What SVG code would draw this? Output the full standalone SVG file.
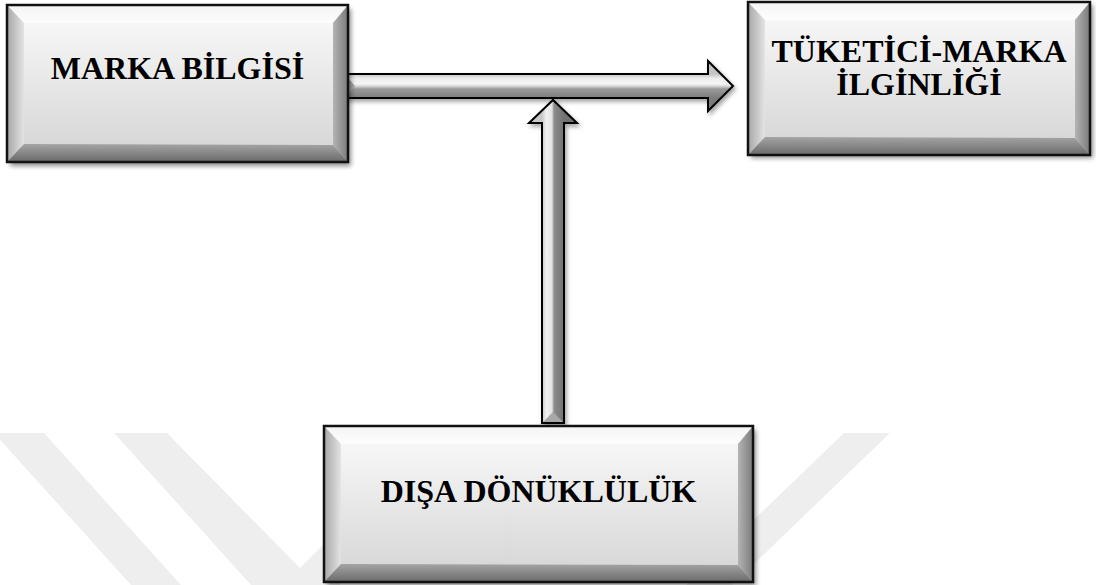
<svg xmlns="http://www.w3.org/2000/svg" width="1096" height="585" viewBox="0 0 1096 585">
  <defs>
    <style>
      .wm { fill: #eeeeee; }
      .label { font-family: "Liberation Serif", "Times New Roman", serif; font-weight: bold; font-size: 32px; fill: #000; text-anchor: middle; }
      .frame { fill: none; stroke: #111; stroke-width: 2.5; }
      .shadow { fill: #000; opacity: 0.45; filter: url(#soft); }
      .face { fill: url(#gFace); }
      .bevT { fill: url(#gTop); }
      .bevL { fill: url(#gLeft); }
      .bevR { fill: url(#gRight); }
      .bevB { fill: url(#gBottom); }
      .arrow { stroke: #000; stroke-width: 2; stroke-linejoin: miter; filter: url(#drop); }
    </style>
    <filter id="soft" x="-10%" y="-10%" width="120%" height="130%">
      <feGaussianBlur stdDeviation="2.5"/>
    </filter>
    <filter id="drop" x="-20%" y="-20%" width="140%" height="140%">
      <feDropShadow dx="2" dy="3" stdDeviation="2" flood-color="#000" flood-opacity="0.35"/>
    </filter>
    <!-- box face and bevel shading -->
    <linearGradient id="gFace" x1="0" y1="0" x2="0" y2="1">
      <stop offset="0" stop-color="#fbfbfb"/>
      <stop offset="1" stop-color="#d4d4d4"/>
    </linearGradient>
    <linearGradient id="gTop" x1="0" y1="0" x2="0" y2="1">
      <stop offset="0" stop-color="#f4f4f4"/>
      <stop offset="1" stop-color="#fdfdfd"/>
    </linearGradient>
    <linearGradient id="gLeft" x1="0" y1="0" x2="1" y2="0">
      <stop offset="0" stop-color="#a6a6a6"/>
      <stop offset="1" stop-color="#e4e4e4"/>
    </linearGradient>
    <linearGradient id="gRight" x1="0" y1="0" x2="1" y2="0">
      <stop offset="0" stop-color="#b4b4b4"/>
      <stop offset="1" stop-color="#7a7a7a"/>
    </linearGradient>
    <linearGradient id="gBottom" x1="0" y1="0" x2="0" y2="1">
      <stop offset="0" stop-color="#a4a4a4"/>
      <stop offset="1" stop-color="#6a6a6a"/>
    </linearGradient>
    <!-- arrow body shading -->
    <linearGradient id="gArrowH" gradientUnits="userSpaceOnUse" x1="0" y1="74" x2="0" y2="98">
      <stop offset="0" stop-color="#c4c4c4"/>
      <stop offset="0.18" stop-color="#ececec"/>
      <stop offset="0.42" stop-color="#f6f6f6"/>
      <stop offset="0.52" stop-color="#cfcfcf"/>
      <stop offset="0.62" stop-color="#9a9a9a"/>
      <stop offset="1" stop-color="#7c7c7c"/>
    </linearGradient>
    <linearGradient id="gArrowV" gradientUnits="userSpaceOnUse" x1="542" y1="0" x2="564" y2="0">
      <stop offset="0" stop-color="#c8c8c8"/>
      <stop offset="0.2" stop-color="#f2f2f2"/>
      <stop offset="0.45" stop-color="#e2e2e2"/>
      <stop offset="0.55" stop-color="#8c8c8c"/>
      <stop offset="1" stop-color="#727272"/>
    </linearGradient>
  </defs>

  <rect width="1096" height="585" fill="#fff"/>

  <!-- faint background watermark bands -->
  <g id="watermark">
    <polygon class="wm" points="-6,433 44,433 181,585 131,585"/>
    <polygon class="wm" points="114,433 167,433 300,568 340,528 340,585 251,585"/>
    <polygon class="wm" points="844,433 890,433 732,585 686,585"/>
  </g>

  <!-- connectors -->
  <g id="connectors">
    <path class="arrow" fill="url(#gArrowH)" d="M345,74 H708 V61 L733,86 L708,111 V98 H345 Z"/>
    <polygon points="346,75.5 355,86 346,96.5" fill="#a8a8a8"/>
    <path class="arrow" fill="url(#gArrowV)" d="M542,423 V123 H529 L553,100 L577,123 H564 V423 Z"/>
    <polygon points="543,422 553,412 563,422" fill="#a8a8a8"/>
  </g>

  <!-- node: MARKA BİLGİSİ -->
  <g id="node-marka-bilgisi">
    <rect class="shadow" x="10" y="9" width="341" height="157"/>
    <rect class="face" x="7" y="5" width="341" height="157"/>
    <polygon class="bevT" points="7,5 348,5 331,23 24,23"/>
    <polygon class="bevL" points="7,5 24,23 24,144 7,162"/>
    <polygon class="bevR" points="348,5 348,162 333,145 333,23"/>
    <polygon class="bevB" points="7,162 24,144 333,145 348,162"/>
    <rect class="frame" x="7" y="5" width="341" height="157"/>
    <text class="label" x="177.5" y="79">MARKA BİLGİSİ</text>
  </g>

  <!-- node: TÜKETİCİ-MARKA İLGİNLİĞİ -->
  <g id="node-tuketici-marka">
    <rect class="shadow" x="751" y="5" width="342" height="153"/>
    <rect class="face" x="748" y="2" width="342" height="153"/>
    <polygon class="bevT" points="748,2 1090,2 1073,20 765,20"/>
    <polygon class="bevL" points="748,2 765,20 765,137 748,155"/>
    <polygon class="bevR" points="1090,2 1090,155 1075,138 1075,20"/>
    <polygon class="bevB" points="748,155 765,137 1075,138 1090,155"/>
    <rect class="frame" x="748" y="2" width="342" height="153"/>
    <text class="label" x="919" y="62">TÜKETİCİ-MARKA</text>
    <text class="label" x="919" y="95">İLGİNLİĞİ</text>
  </g>

  <!-- node: DIŞA DÖNÜKLÜLÜK -->
  <g id="node-disa-donukluluk">
    <rect class="shadow" x="327" y="430" width="429" height="156"/>
    <rect class="face" x="324" y="426" width="429" height="156"/>
    <polygon class="bevT" points="324,426 753,426 736,444 341,444"/>
    <polygon class="bevL" points="324,426 341,444 341,564 324,582"/>
    <polygon class="bevR" points="753,426 753,582 738,565 738,444"/>
    <polygon class="bevB" points="324,582 341,564 738,565 753,582"/>
    <rect class="frame" x="324" y="426" width="429" height="156"/>
    <text class="label" x="538.5" y="502">DIŞA DÖNÜKLÜLÜK</text>
  </g>
</svg>
